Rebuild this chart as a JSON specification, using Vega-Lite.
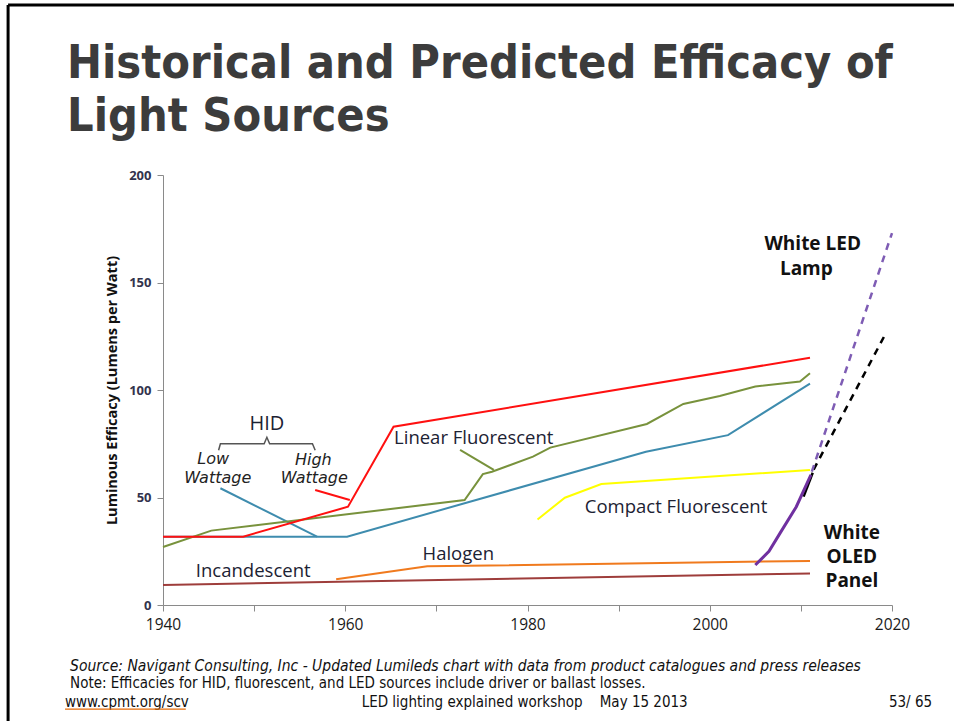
{
  "$schema": "https://vega.github.io/schema/vega-lite/v6.json",
  "width": 729,
  "height": 430,
  "autosize": {"type": "none"},
  "padding": {"left": 163, "top": 175, "right": 62, "bottom": 116},
  "background": "white",
  "config": {"view": {"stroke": null}},
  "title": {
    "text": ["Historical and Predicted Efficacy of", "Light Sources"],
    "anchor": "start",
    "frame": "group",
    "font": "Liberation Sans Narrow, DejaVu Sans Condensed, sans-serif",
    "fontSize": 46.5,
    "fontWeight": "bold",
    "color": "#3c3c3c",
    "lineHeight": 53,
    "baseline": "alphabetic",
    "dx": -96,
    "dy": 214,
    "offset": 40
  },
  "datasets": {
    "lines": [
      {"s": "Incandescent", "i": 0, "year": 1940, "value": 9.3},
      {"s": "Incandescent", "i": 1, "year": 2011, "value": 14.7},
      {"s": "Halogen", "i": 0, "year": 1959, "value": 12},
      {"s": "Halogen", "i": 1, "year": 1969, "value": 18},
      {"s": "Halogen", "i": 2, "year": 2011, "value": 20.5},
      {"s": "Compact Fluorescent", "i": 0, "year": 1981.1, "value": 39.8},
      {"s": "Compact Fluorescent", "i": 1, "year": 1984.1, "value": 49.9},
      {"s": "Compact Fluorescent", "i": 2, "year": 1988.1, "value": 56.3},
      {"s": "Compact Fluorescent", "i": 3, "year": 2011, "value": 62.8},
      {"s": "HID Low Wattage", "i": 0, "year": 1940, "value": 31.8},
      {"s": "HID Low Wattage", "i": 1, "year": 1960.2, "value": 31.8},
      {"s": "HID Low Wattage", "i": 2, "year": 1993, "value": 71.3},
      {"s": "HID Low Wattage", "i": 3, "year": 2002, "value": 79},
      {"s": "HID Low Wattage", "i": 4, "year": 2011, "value": 103},
      {"s": "Linear Fluorescent", "i": 0, "year": 1940, "value": 27},
      {"s": "Linear Fluorescent", "i": 1, "year": 1945.3, "value": 34.6},
      {"s": "Linear Fluorescent", "i": 2, "year": 1973.1, "value": 48.8},
      {"s": "Linear Fluorescent", "i": 3, "year": 1975.1, "value": 60.9},
      {"s": "Linear Fluorescent", "i": 4, "year": 1976.1, "value": 62},
      {"s": "Linear Fluorescent", "i": 5, "year": 1980.6, "value": 69},
      {"s": "Linear Fluorescent", "i": 6, "year": 1982.5, "value": 73.2},
      {"s": "Linear Fluorescent", "i": 7, "year": 1993.1, "value": 84.2},
      {"s": "Linear Fluorescent", "i": 8, "year": 1997.1, "value": 93.5},
      {"s": "Linear Fluorescent", "i": 9, "year": 2001.1, "value": 97.2},
      {"s": "Linear Fluorescent", "i": 10, "year": 2005, "value": 101.6},
      {"s": "Linear Fluorescent", "i": 11, "year": 2009.9, "value": 103.9},
      {"s": "Linear Fluorescent", "i": 12, "year": 2011, "value": 107.8},
      {"s": "HID High Wattage", "i": 0, "year": 1940, "value": 31.8},
      {"s": "HID High Wattage", "i": 1, "year": 1948.8, "value": 31.8},
      {"s": "HID High Wattage", "i": 2, "year": 1960.3, "value": 45.7},
      {"s": "HID High Wattage", "i": 3, "year": 1965.3, "value": 82.9},
      {"s": "HID High Wattage", "i": 4, "year": 2011, "value": 115},
      {"s": "Low Wattage pointer", "i": 0, "year": 1946.3, "value": 54.3},
      {"s": "Low Wattage pointer", "i": 1, "year": 1956.9, "value": 31.8},
      {"s": "High Wattage pointer", "i": 0, "year": 1956.7, "value": 53.5},
      {"s": "High Wattage pointer", "i": 1, "year": 1960.5, "value": 48.8},
      {"s": "Linear Fluorescent pointer", "i": 0, "year": 1972.6, "value": 72.1},
      {"s": "Linear Fluorescent pointer", "i": 1, "year": 1976.3, "value": 62.8},
      {"s": "HID brace", "i": 0, "year": 1946.1, "value": 72},
      {"s": "HID brace", "i": 1, "year": 1946.3, "value": 75},
      {"s": "HID brace", "i": 2, "year": 1951.1, "value": 75},
      {"s": "HID brace", "i": 3, "year": 1951.4, "value": 78},
      {"s": "HID brace", "i": 4, "year": 1951.7, "value": 75},
      {"s": "HID brace", "i": 5, "year": 1956.4, "value": 75},
      {"s": "HID brace", "i": 6, "year": 1956.7, "value": 72},
      {"s": "OLED trend", "i": 0, "year": 2010.3, "value": 50.4},
      {"s": "OLED trend", "i": 1, "year": 2011.3, "value": 61.5},
      {"s": "OLED forecast", "i": 0, "year": 2011.4, "value": 63},
      {"s": "OLED forecast", "i": 1, "year": 2019.4, "value": 127},
      {"s": "White OLED Panel", "i": 0, "year": 2005, "value": 18.6},
      {"s": "White OLED Panel", "i": 1, "year": 2006.5, "value": 25},
      {"s": "White OLED Panel", "i": 2, "year": 2007.7, "value": 33.3},
      {"s": "White OLED Panel", "i": 3, "year": 2009.5, "value": 45.7},
      {"s": "White OLED Panel", "i": 4, "year": 2011.1, "value": 60.5},
      {"s": "White LED Lamp", "i": 0, "year": 2011.2, "value": 62},
      {"s": "White LED Lamp", "i": 1, "year": 2020, "value": 173}
    ],
    "labels": [
      {"kind": "hid", "text": "HID", "year": 1951.4, "value": 84.2},
      {"kind": "cat", "text": "Linear Fluorescent", "year": 1974.1, "value": 77.7},
      {"kind": "cat", "text": "Compact Fluorescent", "year": 1996.3, "value": 45.6},
      {"kind": "cat", "text": "Halogen", "year": 1972.4, "value": 23.7},
      {"kind": "cat", "text": "Incandescent", "year": 1949.9, "value": 15.8},
      {"kind": "ital", "text": "Low", "year": 1945.5, "value": 67.9},
      {"kind": "ital", "text": "Wattage", "year": 1946.0, "value": 59.1},
      {"kind": "ital", "text": "High", "year": 1956.5, "value": 67.4},
      {"kind": "ital", "text": "Wattage", "year": 1956.6, "value": 59.1},
      {"kind": "bold", "text": "White LED", "year": 2011.3, "value": 167.9},
      {"kind": "bold", "text": "Lamp", "year": 2010.6, "value": 156.3},
      {"kind": "bold", "text": "White", "year": 2015.6, "value": 33.5},
      {"kind": "bold", "text": "OLED", "year": 2015.6, "value": 22.3},
      {"kind": "bold", "text": "Panel", "year": 2015.6, "value": 11.2},
      {"kind": "foot_i", "text": "Source: Navigant Consulting, Inc - Updated Lumileds chart with data from product catalogues and press releases", "year": 1929.8, "value": -28.4},
      {"kind": "foot", "text": "Note: Efficacies for HID, fluorescent, and LED sources include driver or ballast losses.", "year": 1929.8, "value": -36.3},
      {"kind": "foot", "text": "www.cpmt.org/scv", "year": 1929.25, "value": -45.1},
      {"kind": "foot", "text": "LED lighting explained workshop\u00a0\u00a0\u00a0\u00a0May 15 2013", "year": 1961.8, "value": -45.1},
      {"kind": "foot_r", "text": "53/ 65", "year": 2024.4, "value": -45.1}
    ],
    "rules": [
      {"kind": "link", "year": 1929.25, "year2": 1942.5, "value": -48.4, "value2": -48.4},
      {"kind": "frame", "year": 1923.0, "year2": 2026.8, "value": 279.1, "value2": 279.1},
      {"kind": "frame", "year": 1923.0, "year2": 1923.0, "value": 279.1, "value2": -54}
    ]
  },
  "encoding": {
    "x": {"field": "year", "type": "quantitative", "scale": {"domain": [1940, 2020], "nice": false, "zero": false}},
    "y": {"field": "value", "type": "quantitative", "scale": {"domain": [0, 200], "nice": false}}
  },
  "layer": [
    {
      "data": {"name": "lines"},
      "transform": [{"filter": "datum.s === 'Incandescent'"}],
      "mark": {"type": "line", "color": "#9e3d3b", "strokeWidth": 2, "clip": false},
      "encoding": {
        "x": {"field": "year", "type": "quantitative", "scale": {"domain": [1940, 2020], "nice": false, "zero": false},
          "axis": {"values": [1940, 1950, 1960, 1970, 1980, 1990, 2000, 2010, 2020], "labelExpr": "datum.value % 20 === 0 ? datum.label : ''", "format": "d", "labelFlush": false, "labelOverlap": false, "grid": false, "domainColor": "#8a8a8a", "tickColor": "#8a8a8a", "tickSize": 6, "labelFont": "Open Sans", "labelFontSize": 15.5, "labelColor": "#1a1a1a", "labelPadding": 6, "title": null}},
        "y": {"field": "value", "type": "quantitative", "scale": {"domain": [0, 200], "nice": false},
          "axis": {"values": [0, 50, 100, 150, 200], "grid": false, "domainColor": "#8a8a8a", "tickColor": "#8a8a8a", "tickSize": 6, "labelFont": "Open Sans", "labelFontSize": 13, "labelFontWeight": "bold", "labelColor": "#33334d", "labelPadding": 6, "title": "Luminous Efficacy (Lumens per Watt)", "titleFont": "Open Sans", "titleFontSize": 14.5, "titleFontWeight": "bold", "titleColor": "#111111", "titlePadding": 9}},
        "order": {"field": "i", "type": "quantitative"}
      }
    },
    {
      "data": {"name": "lines"},
      "transform": [{"filter": "datum.s === 'Halogen'"}],
      "mark": {"type": "line", "color": "#f07a1e", "strokeWidth": 2, "clip": false},
      "encoding": {"order": {"field": "i", "type": "quantitative"}}
    },
    {
      "data": {"name": "lines"},
      "transform": [{"filter": "datum.s === 'Compact Fluorescent'"}],
      "mark": {"type": "line", "color": "#ffff00", "strokeWidth": 2, "clip": false},
      "encoding": {"order": {"field": "i", "type": "quantitative"}}
    },
    {
      "data": {"name": "lines"},
      "transform": [{"filter": "datum.s === 'HID Low Wattage' || datum.s === 'Low Wattage pointer'"}],
      "mark": {"type": "line", "color": "#3e8cae", "strokeWidth": 2, "clip": false},
      "encoding": {"detail": {"field": "s"}, "order": {"field": "i", "type": "quantitative"}}
    },
    {
      "data": {"name": "lines"},
      "transform": [{"filter": "datum.s === 'Linear Fluorescent' || datum.s === 'Linear Fluorescent pointer'"}],
      "mark": {"type": "line", "color": "#78923c", "strokeWidth": 2, "clip": false},
      "encoding": {"detail": {"field": "s"}, "order": {"field": "i", "type": "quantitative"}}
    },
    {
      "data": {"name": "lines"},
      "transform": [{"filter": "datum.s === 'HID High Wattage' || datum.s === 'High Wattage pointer'"}],
      "mark": {"type": "line", "color": "#ff1010", "strokeWidth": 2, "clip": false},
      "encoding": {"detail": {"field": "s"}, "order": {"field": "i", "type": "quantitative"}}
    },
    {
      "data": {"name": "lines"},
      "transform": [{"filter": "datum.s === 'HID brace'"}],
      "mark": {"type": "line", "color": "#555555", "strokeWidth": 1.5, "clip": false},
      "encoding": {"order": {"field": "i", "type": "quantitative"}}
    },
    {
      "data": {"name": "lines"},
      "transform": [{"filter": "datum.s === 'OLED trend'"}],
      "mark": {"type": "line", "color": "#000000", "strokeWidth": 2.5, "clip": false},
      "encoding": {"order": {"field": "i", "type": "quantitative"}}
    },
    {
      "data": {"name": "lines"},
      "transform": [{"filter": "datum.s === 'OLED forecast'"}],
      "mark": {"type": "line", "color": "#000000", "strokeWidth": 2.5, "strokeDash": [7, 6], "clip": false},
      "encoding": {"order": {"field": "i", "type": "quantitative"}}
    },
    {
      "data": {"name": "lines"},
      "transform": [{"filter": "datum.s === 'White OLED Panel'"}],
      "mark": {"type": "line", "color": "#7030a0", "strokeWidth": 3, "clip": false},
      "encoding": {"order": {"field": "i", "type": "quantitative"}}
    },
    {
      "data": {"name": "lines"},
      "transform": [{"filter": "datum.s === 'White LED Lamp'"}],
      "mark": {"type": "line", "color": "#7e5cb4", "strokeWidth": 2.5, "strokeDash": [7, 6], "clip": false},
      "encoding": {"order": {"field": "i", "type": "quantitative"}}
    },
    {
      "data": {"name": "labels"},
      "transform": [{"filter": "datum.kind === 'cat'"}],
      "mark": {"type": "text", "font": "Open Sans", "fontSize": 18.5, "color": "#1c2233", "align": "center", "baseline": "middle", "clip": false},
      "encoding": {"text": {"field": "text"}}
    },
    {
      "data": {"name": "labels"},
      "transform": [{"filter": "datum.kind === 'hid'"}],
      "mark": {"type": "text", "font": "Open Sans", "fontSize": 20, "color": "#1c2233", "align": "center", "baseline": "middle", "clip": false},
      "encoding": {"text": {"field": "text"}}
    },
    {
      "data": {"name": "labels"},
      "transform": [{"filter": "datum.kind === 'ital'"}],
      "mark": {"type": "text", "font": "DejaVu Sans", "fontStyle": "italic", "fontSize": 16, "color": "#222222", "align": "center", "baseline": "middle", "clip": false},
      "encoding": {"text": {"field": "text"}}
    },
    {
      "data": {"name": "labels"},
      "transform": [{"filter": "datum.kind === 'bold'"}],
      "mark": {"type": "text", "font": "Open Sans", "fontWeight": "bold", "fontSize": 19, "color": "#111111", "align": "center", "baseline": "middle", "clip": false},
      "encoding": {"text": {"field": "text"}}
    },
    {
      "data": {"name": "labels"},
      "transform": [{"filter": "datum.kind === 'foot_i'"}],
      "mark": {"type": "text", "font": "Liberation Sans Narrow, DejaVu Sans Condensed, sans-serif", "fontStyle": "italic", "fontSize": 15.5, "color": "#111111", "align": "left", "baseline": "middle", "clip": false},
      "encoding": {"text": {"field": "text"}}
    },
    {
      "data": {"name": "labels"},
      "transform": [{"filter": "datum.kind === 'foot'"}],
      "mark": {"type": "text", "font": "Liberation Sans Narrow, DejaVu Sans Condensed, sans-serif", "fontSize": 15, "color": "#111111", "align": "left", "baseline": "middle", "clip": false},
      "encoding": {"text": {"field": "text"}}
    },
    {
      "data": {"name": "labels"},
      "transform": [{"filter": "datum.kind === 'foot_r'"}],
      "mark": {"type": "text", "font": "Liberation Sans Narrow, DejaVu Sans Condensed, sans-serif", "fontSize": 15, "color": "#111111", "align": "right", "baseline": "middle", "clip": false},
      "encoding": {"text": {"field": "text"}}
    },
    {
      "data": {"name": "rules"},
      "transform": [{"filter": "datum.kind === 'link'"}],
      "mark": {"type": "rule", "color": "#e46c0a", "strokeWidth": 1.2, "clip": false},
      "encoding": {"x2": {"field": "year2"}, "y2": {"field": "value2"}}
    },
    {
      "data": {"name": "rules"},
      "transform": [{"filter": "datum.kind === 'frame'"}],
      "mark": {"type": "rule", "color": "#000000", "strokeWidth": 3, "clip": false},
      "encoding": {"x2": {"field": "year2"}, "y2": {"field": "value2"}}
    }
  ]
}
